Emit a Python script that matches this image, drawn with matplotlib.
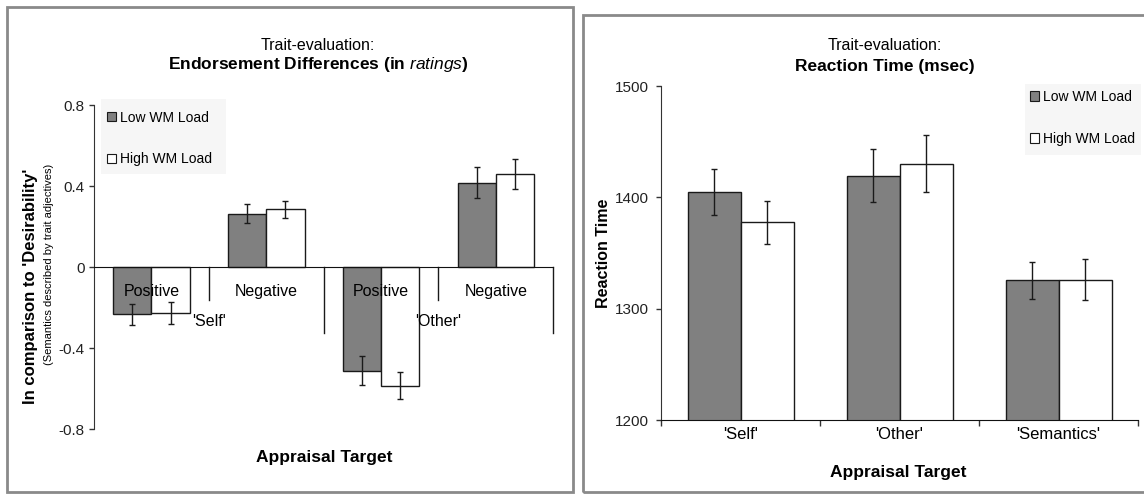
import matplotlib
matplotlib.use("Agg")
import matplotlib.pyplot as plt
import matplotlib.transforms as mtransforms
from matplotlib.patches import Patch, Rectangle
import numpy as np

plt.rcParams['font.family'] = ['Liberation Sans', 'DejaVu Sans']
plt.rcParams['axes.unicode_minus'] = False
plt.rcParams['mathtext.fontset'] = 'custom'
plt.rcParams['mathtext.rm'] = 'Liberation Sans'
plt.rcParams['mathtext.it'] = 'Liberation Sans:italic'
plt.rcParams['mathtext.bf'] = 'Liberation Sans:bold'

# ---------------- data ----------------
series_names = ["Low WM Load", "High WM Load"]

# left chart: endorsement differences
end_groups = ["Positive", "Negative", "Positive", "Negative"]
end_targets = ["'Self'", "'Other'"]
end_low = [-0.234, 0.264, -0.512, 0.417]
end_low_err = [0.051, 0.047, 0.071, 0.076]
end_high = [-0.227, 0.285, -0.586, 0.459]
end_high_err = [0.053, 0.042, 0.067, 0.073]
end_ticks = [0.8, 0.4, 0, -0.4, -0.8]
end_ticklabels = ["0.8", "0.4", "0", "-0.4", "-0.8"]

# right chart: reaction time
rt_categories = ["'Self'", "'Other'", "'Semantics'"]
rt_low = [1405, 1419.5, 1325.5]
rt_low_err = [20.5, 23.8, 16.8]
rt_high = [1377.5, 1430.3, 1326]
rt_high_err = [19, 25.6, 18.3]
rt_ticks = [1200, 1300, 1400, 1500]

# ---------------- style ----------------
W, H = 1144, 494
LOW_C = "#808080"
HIGH_C = "#ffffff"
EDGE = "#1a1a1a"
FRAME = "#8a8a8a"
TICK_FS = 11
CAT_FS = 11.5

fig = plt.figure(figsize=(W / 100, H / 100), dpi=100)
fig.patch.set_facecolor("white")


def fx(px):
    return px / W


def fy(py):
    return 1 - py / H


def ftext(xp, yp, s, **kw):
    fig.text(fx(xp), fy(yp), s, ha=kw.pop('ha', 'center'), va=kw.pop('va', 'center'), **kw)


# outer frames
fig.patches.append(Rectangle((fx(7), fy(492)), fx(573) - fx(7), fy(7) - fy(492),
                             transform=fig.transFigure, fill=False, ec=FRAME, lw=2))
fig.patches.append(Rectangle((fx(583), fy(492)), fx(1160) - fx(583), fy(15) - fy(492),
                             transform=fig.transFigure, fill=False, ec=FRAME, lw=2))

bw = 1 / 3
err_kw = dict(fmt='none', ecolor=EDGE, elinewidth=1, capsize=2.5, capthick=1, zorder=3)

# ---------------- left chart ----------------
axL = fig.add_axes([fx(94), fy(429), fx(553.3) - fx(94), fy(105) - fy(429)])
x = np.arange(len(end_groups))
axL.bar(x - bw / 2, end_low, bw, color=LOW_C, edgecolor=EDGE, lw=1, zorder=2)
axL.bar(x + bw / 2, end_high, bw, color=HIGH_C, edgecolor=EDGE, lw=1, zorder=2)
axL.errorbar(x - bw / 2, end_low, yerr=end_low_err, **err_kw)
axL.errorbar(x + bw / 2, end_high, yerr=end_high_err, **err_kw)
axL.set_xlim(-0.5, len(end_groups) - 0.5)
axL.set_ylim(-0.8, 0.8)
axL.set_yticks(end_ticks)
axL.set_yticklabels(end_ticklabels)
axL.tick_params(axis='y', length=3.5, width=1, color='#333333', pad=3,
                labelsize=TICK_FS, labelcolor='#222222')
axL.set_xticks([])
for s in ['top', 'right']:
    axL.spines[s].set_visible(False)
axL.spines['bottom'].set_position(('data', 0))
axL.spines['bottom'].set_color('#111111')
axL.spines['left'].set_color('#333333')
axL.set_facecolor('none')

axh_px = (fy(105) - fy(429)) * H  # axes height in pixels
yspan = 1.6


def offs(dy_px):
    return axL.transData + mtransforms.ScaledTranslation(0, -dy_px / 100, fig.dpi_scale_trans)


for i, g in enumerate(end_groups):
    axL.text(i, 0, g, transform=offs(24), ha='center', va='center', fontsize=CAT_FS, zorder=4)
    ln = 66 if (i % 2 == 1) else 33
    axL.plot([i + 0.5, i + 0.5], [0, -ln / axh_px * yspan], color=EDGE, lw=1,
             clip_on=False, zorder=1)
for j, t in enumerate(end_targets):
    axL.text(2 * j + 0.5, 0, t, transform=offs(54), ha='center', va='center',
             fontsize=CAT_FS, zorder=4)

# left legend
handles = [Patch(facecolor=LOW_C, edgecolor=EDGE, lw=0.8),
           Patch(facecolor=HIGH_C, edgecolor=EDGE, lw=0.8)]
fig.patches.append(Rectangle((fx(101), fy(174)), fx(226) - fx(101), fy(99) - fy(174),
                             transform=fig.transFigure, fc='#f6f6f6', ec='none', zorder=0))
fig.legend(handles=handles, labels=series_names, loc='upper left',
           bbox_to_anchor=(fx(107), fy(110.5)), frameon=False, fontsize=10,
           handlelength=0.65, handleheight=0.65, handletextpad=0.3,
           labelspacing=2.0, borderpad=0, borderaxespad=0)

ftext(318, 45, "Trait-evaluation:", fontsize=11.5)
ftext(318, 65, r"Endorsement Differences (in $\mathit{ratings}$)", fontsize=12.5,
      fontweight='bold')
ftext(324, 457, "Appraisal Target", fontsize=12.5, fontweight='bold')
ftext(31, 286, "In comparison to 'Desirability'", fontsize=12, fontweight='bold', rotation=90)
ftext(49, 264, "(Semantics described by trait adjectives)", fontsize=8, rotation=90)

# ---------------- right chart ----------------
axR = fig.add_axes([fx(661), fy(420), fx(1138) - fx(661), fy(86) - fy(420)])
xr = np.arange(len(rt_categories))
axR.bar(xr - bw / 2, rt_low, bw, color=LOW_C, edgecolor=EDGE, lw=1, zorder=2)
axR.bar(xr + bw / 2, rt_high, bw, color=HIGH_C, edgecolor=EDGE, lw=1, zorder=2)
axR.errorbar(xr - bw / 2, rt_low, yerr=rt_low_err, **err_kw)
axR.errorbar(xr + bw / 2, rt_high, yerr=rt_high_err, **err_kw)
axR.set_xlim(-0.5, len(rt_categories) - 0.5)
axR.set_ylim(rt_ticks[0], rt_ticks[-1])
axR.set_yticks(rt_ticks)
axR.set_yticklabels([str(t) for t in rt_ticks])
axR.tick_params(axis='y', length=3.5, width=1, color='#333333', pad=5,
                labelsize=TICK_FS, labelcolor='#222222')
axR.set_xticks(np.arange(len(rt_categories) + 1) - 0.5)
axR.set_xticklabels([])
axR.tick_params(axis='x', which='major', length=4, width=1, color='#333333', direction='out')
axR.set_xticks(xr, minor=True)
axR.set_xticklabels(rt_categories, minor=True)
axR.tick_params(axis='x', which='minor', length=0, pad=5, labelsize=12)
for s in ['top', 'right']:
    axR.spines[s].set_visible(False)
axR.spines['bottom'].set_color('#111111')
axR.spines['left'].set_color('#333333')
axR.set_facecolor('none')

fig.patches.append(Rectangle((fx(1025), fy(155)), fx(1141) - fx(1025), fy(84) - fy(155),
                             transform=fig.transFigure, fc='#f6f6f6', ec='none', zorder=0))
fig.legend(handles=handles, labels=series_names, loc='upper left',
           bbox_to_anchor=(fx(1030), fy(90)), frameon=False, fontsize=10,
           handlelength=0.65, handleheight=0.65, handletextpad=0.3,
           labelspacing=2.0, borderpad=0, borderaxespad=0)

ftext(885, 45, "Trait-evaluation:", fontsize=11.5)
ftext(885, 66, "Reaction Time (msec)", fontsize=12.5, fontweight='bold')
ftext(898, 472, "Appraisal Target", fontsize=12.5, fontweight='bold')
ftext(603, 253, "Reaction Time", fontsize=11.5, fontweight='bold', rotation=90)

fig.savefig("out.png", dpi=100)
